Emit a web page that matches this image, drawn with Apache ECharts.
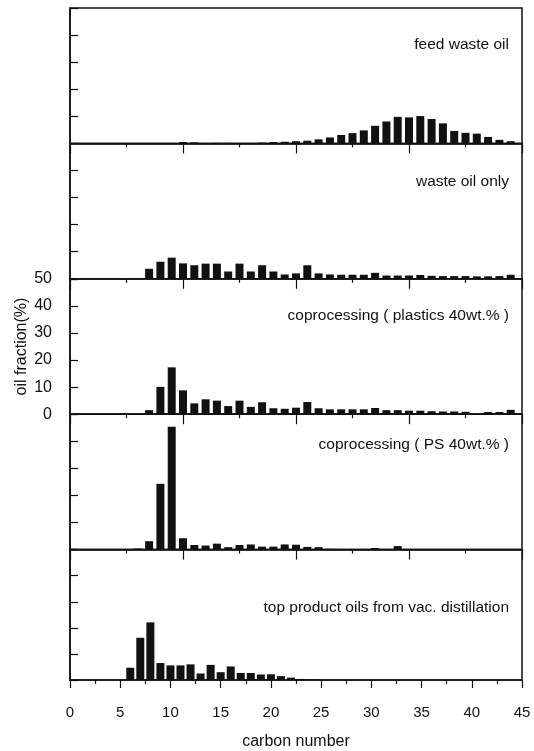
<!DOCTYPE html>
<html>
<head>
<meta charset="utf-8">
<script src="https://cdn.jsdelivr.net/npm/echarts@6/dist/echarts.min.js"></script>
<style>
  html, body { margin: 0; padding: 0; background: #fff; }
  #chart { width: 534px; height: 751px; }
</style>
</head>
<body>
<div id="chart"></div>
<script>
// upper four panels share their own slot scale (0..40), bottom panel is carbon number 0..45
const upperSlots = [0, 1, 2, 3, 4, 5, 6, 7, 8, 9, 10, 11, 12, 13, 14, 15, 16, 17, 18, 19,
  20, 21, 22, 23, 24, 25, 26, 27, 28, 29, 30, 31, 32, 33, 34, 35, 36, 37, 38, 39]

const feedWasteOil = [0, 0, 0, 0, 0, 0, 0, 0, 0, 0, 0.5, 0.4, 0, 0.2, 0.2, 0, 0, 0.3, 0.5, 0.6,
  0.8, 1.0, 1.5, 2.2, 3.1, 3.8, 4.8, 6.5, 8.1, 9.8, 9.6, 10.1, 9.0, 7.4, 4.6, 3.9, 3.6, 2.4, 1.3, 0.8]

const wasteOilOnly = [0, 0, 0, 0, 0, 0, 0, 3.7, 6.3, 7.8, 5.7, 5.0, 5.6, 5.6, 2.7, 5.6, 2.7, 5.0, 2.7, 1.6,
  2.0, 5.0, 2.0, 1.6, 1.5, 1.5, 1.5, 2.2, 1.2, 1.2, 1.2, 1.4, 1.1, 1.0, 1.0, 1.0, 0.9, 0.9, 1.0, 1.5]

const coprocPlastics = [0, 0, 0, 0, 0, 0, 0, 1.5, 10.1, 17.3, 8.8, 4.0, 5.5, 5.0, 3.0, 5.0, 2.7, 4.4, 2.2, 2.0,
  2.4, 4.5, 2.2, 1.8, 1.8, 1.8, 1.8, 2.3, 1.5, 1.5, 1.3, 1.3, 1.1, 1.0, 1.0, 0.9, 0, 0.8, 0.8, 1.6]

const coprocPS = [0, 0, 0, 0, 0, 0, 0.4, 3.1, 24.3, 45.4, 4.2, 1.7, 1.5, 2.2, 0.9, 1.7, 1.9, 1.1, 1.1, 1.9,
  1.8, 1.0, 0.9, 0.3, 0.2, 0.2, 0, 0.6, 0, 1.3, 0, 0, 0, 0, 0, 0, 0, 0, 0, 0]

const carbonNumbers = [6, 7, 8, 9, 10, 11, 12, 13, 14, 15, 16, 17, 18, 19, 20, 21, 22, 23, 24]
const topProductOils = [4.7, 16.2, 22.1, 6.5, 5.6, 5.6, 6.0, 2.5, 5.8, 3.0, 5.2, 2.7, 2.7, 2.1, 2.2, 1.5, 0.9, 0.4, 0.2]

const panelTitles = [
  'feed waste oil',
  'waste oil only',
  'coprocessing ( plastics 40wt.% )',
  'coprocessing ( PS 40wt.% )',
  'top product oils from vac. distillation'
]
const xTickLabels = ['0', '5', '10', '15', '20', '25', '30', '35', '40', '45']
const yTickLabels = ['0', '10', '20', '30', '40', '50']

const FONT = '"Liberation Sans", Arial, sans-serif'
const INK = '#111'
const panelTop = [8, 143.4, 278.8, 414.2, 549.6]
const panelH = 135.4
const titleTop = [32, 169, 303, 432, 595]

const upperSeries = [feedWasteOil, wasteOilOnly, coprocPlastics, coprocPS]

const grids = panelTop.map(t => ({
  left: 70, right: 12, top: t, height: panelH,
  show: true, borderColor: INK, borderWidth: 1.5, backgroundColor: 'transparent'
}))

const xAxes = panelTop.map((t, i) => {
  const bottom = i === 4
  return {
    type: 'value',
    gridIndex: i,
    min: 0,
    max: bottom ? 45 : 40,
    interval: bottom ? 5 : 10,
    axisLine: { show: true, onZero: false, lineStyle: { color: INK, width: 1.5 } },
    axisTick: { show: true, inside: false, length: bottom ? 8 : 10, lineStyle: { color: INK, width: 1.2 } },
    minorTick: { show: true, splitNumber: 2, length: 4, lineStyle: { color: INK, width: 1.2 } },
    splitLine: { show: false },
    minorSplitLine: { show: false },
    axisLabel: bottom ? {
      show: true, color: INK, fontSize: 15, fontFamily: FONT, margin: 25,
      formatter: v => xTickLabels[Math.round(v / 5)]
    } : { show: false },
    name: bottom ? 'carbon number' : '',
    nameLocation: 'middle',
    nameGap: 54,
    nameMoveOverlap: false,
    nameTextStyle: { color: INK, fontSize: 16, fontFamily: FONT },
    z: 5
  }
})

const yAxes = panelTop.map((t, i) => {
  const labelled = i === 2
  return {
    type: 'value',
    gridIndex: i,
    min: 0,
    max: 50,
    interval: 10,
    axisLine: { show: true, lineStyle: { color: INK, width: 1.5 } },
    axisTick: { show: true, inside: true, length: 8, lineStyle: { color: INK, width: 1.2 } },
    splitLine: { show: false },
    axisLabel: labelled ? {
      show: true, color: INK, fontSize: 16, fontFamily: FONT, margin: 18,
      formatter: v => yTickLabels[Math.round(v / 10)]
    } : { show: false },
    name: labelled ? 'oil fraction(%)' : '',
    nameLocation: 'middle',
    nameGap: 40,
    nameMoveOverlap: false,
    nameTextStyle: { color: INK, fontSize: 16, fontFamily: FONT },
    z: 5
  }
})

const series = upperSeries.map((vals, i) => ({
  type: 'bar',
  xAxisIndex: i,
  yAxisIndex: i,
  barWidth: 8,
  itemStyle: { color: INK },
  data: upperSlots.map((s, k) => [s, vals[k]]),
  silent: true
}))
series.push({
  type: 'bar',
  xAxisIndex: 4,
  yAxisIndex: 4,
  barWidth: 8,
  itemStyle: { color: INK },
  data: carbonNumbers.map((c, k) => [c, topProductOils[k]]),
  silent: true
})

const chart = echarts.init(document.getElementById('chart'), null, { renderer: 'canvas' })
chart.setOption({
  backgroundColor: '#fff',
  animation: false,
  title: panelTitles.map((txt, i) => ({
    text: txt,
    right: 20,
    top: titleTop[i],
    textStyle: { color: INK, fontSize: 15.5, fontWeight: 'normal', fontFamily: FONT }
  })),
  grid: grids,
  xAxis: xAxes,
  yAxis: yAxes,
  series: series
})
</script>
</body>
</html>
